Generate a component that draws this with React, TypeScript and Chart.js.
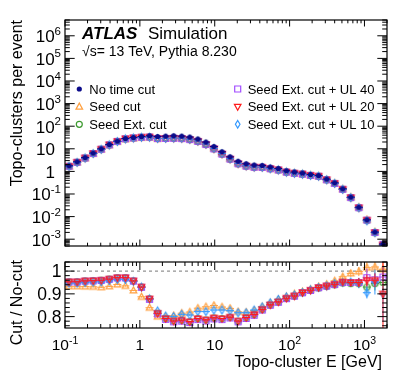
import React, { useEffect, useRef } from 'react';
import { Chart, registerables } from 'chart.js';
Chart.register(...registerables);

// ---------- DATA ----------
// Bin centres (GeV), 40 log-spaced bins from 0.1 to 2000 GeV
const energyGeV = [
  0.1132, 0.145, 0.1857, 0.2378, 0.3047, 0.3903, 0.5, 0.6404, 0.8203, 1.0508,
  1.3459, 1.7241, 2.2085, 2.8289, 3.6238, 4.6416, 5.9459, 7.6164, 9.7555, 12.497,
  16.008, 20.505, 26.265, 33.646, 43.098, 55.208, 70.717, 90.584, 116.03, 148.63,
  190.39, 243.88, 312.39, 400.17, 512.59, 656.6, 841.1, 1077.1, 1379.8, 1767.6,
];

// Topo-clusters per event, no time cut
const noTimeCut = [
  1.77, 2.66, 4.1, 6.5, 10, 15.5, 21.9, 28.6, 31.7, 35,
  37.6, 35, 36.3, 37.6, 36.3, 33, 27, 19.8, 12.6, 7.4,
  4.4, 2.8, 2.17, 1.9, 1.82, 1.55, 1.34, 1.06, 0.93, 0.84,
  0.73, 0.66, 0.457, 0.313, 0.17, 0.073, 0.026, 0.0072, 0.00206, 0.00061,
];
// relative statistical uncertainty of the distributions
const relErrMain = [
  0.004, 0.004, 0.004, 0.004, 0.004, 0.004, 0.004, 0.004, 0.004, 0.004,
  0.004, 0.004, 0.004, 0.004, 0.004, 0.004, 0.004, 0.004, 0.004, 0.005,
  0.006, 0.007, 0.008, 0.008, 0.008, 0.009, 0.01, 0.01, 0.011, 0.012,
  0.013, 0.014, 0.016, 0.02, 0.025, 0.04, 0.06, 0.1, 0.15, 0.25,
];

// Ratios Cut / No-cut
const ratioSeedCut = [
  0.933, 0.933, 0.932, 0.931, 0.929, 0.933, 0.941, 0.935, 0.915, 0.887,
  0.839, 0.8, 0.799, 0.804, 0.815, 0.82, 0.837, 0.843, 0.849, 0.842,
  0.836, 0.821, 0.819, 0.827, 0.843, 0.86, 0.875, 0.888, 0.9, 0.91,
  0.92, 0.932, 0.942, 0.957, 0.975, 0.99, 0.998, 1.015, 1.018, 1.008,
];
const ratioSeedExt = [
  0.953, 0.953, 0.957, 0.958, 0.96, 0.965, 0.971, 0.971, 0.957, 0.93,
  0.878, 0.815, 0.791, 0.781, 0.784, 0.778, 0.791, 0.785, 0.794, 0.791,
  0.797, 0.78, 0.795, 0.809, 0.831, 0.851, 0.864, 0.88, 0.89, 0.905,
  0.915, 0.926, 0.933, 0.94, 0.948, 0.945, 0.945, 0.93, 0.945, 0.95,
];
const ratioUL40 = [
  0.952, 0.952, 0.956, 0.957, 0.959, 0.964, 0.97, 0.97, 0.956, 0.929,
  0.876, 0.812, 0.788, 0.777, 0.78, 0.774, 0.787, 0.781, 0.79, 0.787,
  0.794, 0.777, 0.792, 0.806, 0.829, 0.85, 0.863, 0.879, 0.89, 0.905,
  0.915, 0.927, 0.934, 0.941, 0.95, 0.95, 0.95, 0.971, 0.962, 0.974,
];
const ratioUL20 = [
  0.953, 0.953, 0.957, 0.958, 0.96, 0.965, 0.971, 0.971, 0.957, 0.93,
  0.878, 0.815, 0.792, 0.781, 0.785, 0.778, 0.792, 0.786, 0.795, 0.792,
  0.798, 0.781, 0.796, 0.81, 0.832, 0.852, 0.865, 0.881, 0.891, 0.906,
  0.916, 0.928, 0.935, 0.942, 0.952, 0.95, 0.95, 0.96, 0.96, 0.9,
];
const ratioUL10 = [
  0.947, 0.947, 0.95, 0.952, 0.953, 0.958, 0.963, 0.963, 0.955, 0.93,
  0.878, 0.825, 0.803, 0.8, 0.81, 0.807, 0.822, 0.822, 0.829, 0.829,
  0.826, 0.817, 0.817, 0.829, 0.843, 0.861, 0.876, 0.887, 0.895, 0.906,
  0.918, 0.928, 0.935, 0.945, 0.95, 0.952, 0.948, 0.905, 0.952, 0.9,
];
// Absolute uncertainties of the ratios
const errSeedCut = [
  0.003, 0.003, 0.003, 0.003, 0.003, 0.003, 0.003, 0.003, 0.003, 0.003,
  0.003, 0.003, 0.003, 0.003, 0.003, 0.003, 0.003, 0.003, 0.003, 0.003,
  0.004, 0.004, 0.004, 0.004, 0.005, 0.005, 0.005, 0.006, 0.006, 0.007,
  0.007, 0.008, 0.009, 0.01, 0.012, 0.015, 0.02, 0.025, 0.03, 0.04,
];
const errSeedExt = [
  0.003, 0.003, 0.003, 0.003, 0.003, 0.003, 0.003, 0.003, 0.003, 0.003,
  0.003, 0.003, 0.003, 0.003, 0.003, 0.003, 0.003, 0.003, 0.003, 0.003,
  0.004, 0.004, 0.004, 0.004, 0.005, 0.005, 0.005, 0.006, 0.006, 0.007,
  0.007, 0.008, 0.009, 0.01, 0.012, 0.015, 0.02, 0.025, 0.03, 0.04,
];
const errUL40 = [
  0.003, 0.003, 0.003, 0.003, 0.003, 0.003, 0.003, 0.003, 0.003, 0.003,
  0.003, 0.003, 0.003, 0.003, 0.003, 0.003, 0.003, 0.003, 0.003, 0.003,
  0.004, 0.004, 0.004, 0.004, 0.005, 0.005, 0.005, 0.006, 0.006, 0.007,
  0.007, 0.008, 0.009, 0.01, 0.012, 0.015, 0.02, 0.04, 0.03, 0.02,
];
const errUL20 = [
  0.003, 0.003, 0.003, 0.003, 0.003, 0.003, 0.003, 0.003, 0.003, 0.003,
  0.003, 0.003, 0.003, 0.003, 0.003, 0.003, 0.003, 0.003, 0.003, 0.003,
  0.004, 0.004, 0.004, 0.004, 0.005, 0.005, 0.005, 0.006, 0.006, 0.007,
  0.007, 0.008, 0.009, 0.01, 0.012, 0.015, 0.02, 0.025, 0.03, 0.17,
];
const errUL10 = [
  0.003, 0.003, 0.003, 0.003, 0.003, 0.003, 0.003, 0.003, 0.003, 0.003,
  0.003, 0.003, 0.003, 0.003, 0.003, 0.003, 0.003, 0.003, 0.003, 0.003,
  0.004, 0.004, 0.004, 0.004, 0.005, 0.005, 0.005, 0.006, 0.006, 0.007,
  0.007, 0.008, 0.009, 0.01, 0.012, 0.015, 0.02, 0.025, 0.055, 0.12,
];

const mainYExponents = [-3, -2, -1, 0, 1, 2, 3, 4, 5, 6];
const xExponents = [-1, 0, 1, 2, 3];
const ratioTickValues = [0.8, 0.9, 1];
const ratioTickLabels = ['0.8', '0.9', '1'];

// ---------- STYLE ----------
const FONT = '"Liberation Sans", Arial, Helvetica, sans-serif';
const W = 407;
const H = 391;
const MAIN_AREA = { left: 65, right: 387, top: 20, bottom: 246 };
const RATIO_AREA = { left: 65, right: 387, top: 262, bottom: 328 };
const X_MIN = 0.1;
const X_MAX = 2000;

const COL = {
  nocut: '#0b0b8a',
  seed: '#ffa040',
  ext: '#3d9a2f',
  ul40: '#a24dff',
  ul20: '#ff1a1a',
  ul10: '#3399ff',
};

type Shape = 'dot' | 'circle' | 'tri' | 'tridown' | 'square' | 'diamond';

function drawShape(g: CanvasRenderingContext2D, shape: Shape, color: string, m: number, n: number) {
  g.save();
  g.strokeStyle = color;
  g.fillStyle = color;
  g.lineWidth = 1.2;
  g.beginPath();
  switch (shape) {
    case 'dot':
      g.arc(m, n, 2.6, 0, Math.PI * 2);
      g.fill();
      break;
    case 'circle':
      g.arc(m, n, 3, 0, Math.PI * 2);
      g.stroke();
      break;
    case 'tri':
      g.moveTo(m, n - 3.6);
      g.lineTo(m + 3.3, n + 2.4);
      g.lineTo(m - 3.3, n + 2.4);
      g.closePath();
      g.stroke();
      break;
    case 'tridown':
      g.moveTo(m, n + 3.6);
      g.lineTo(m + 3.3, n - 2.4);
      g.lineTo(m - 3.3, n - 2.4);
      g.closePath();
      g.stroke();
      break;
    case 'square':
      g.rect(m - 3, n - 3, 6, 6);
      g.stroke();
      break;
    case 'diamond':
      g.moveTo(m, n - 3.8);
      g.lineTo(m + 2.3, n);
      g.lineTo(m, n + 3.8);
      g.lineTo(m - 2.3, n);
      g.closePath();
      g.stroke();
      break;
  }
  g.restore();
}

function makeMarker(shape: Shape, color: string) {
  const c = document.createElement('canvas');
  c.width = 13;
  c.height = 13;
  const g = c.getContext('2d')!;
  drawShape(g, shape, color, 6.5, 6.5);
  return c;
}

function binEdges(i: number): [number, number] {
  const c = energyGeV;
  const lo = i > 0 ? Math.sqrt(c[i - 1] * c[i]) : (c[0] * c[0]) / Math.sqrt(c[0] * c[1]);
  const hi = i < c.length - 1 ? Math.sqrt(c[i] * c[i + 1]) : (c[i] * c[i]) / Math.sqrt(c[i - 1] * c[i]);
  return [lo, hi];
}

const errorBarPlugin = {
  id: 'errorBars',
  beforeDatasetDraw(chart: any, args: any) {
    const ds = chart.data.datasets[args.index];
    if (!ds.errs) return;
    const { ctx, chartArea } = chart;
    const xs = chart.scales.x;
    const ys = chart.scales.y;
    ctx.save();
    ctx.beginPath();
    ctx.rect(chartArea.left, chartArea.top, chartArea.right - chartArea.left, chartArea.bottom - chartArea.top);
    ctx.clip();
    ctx.strokeStyle = ds.barColor;
    ctx.lineWidth = 1;
    ds.data.forEach((p: any, i: number) => {
      const [lo, hi] = binEdges(i);
      const px = xs.getPixelForValue(p.x);
      const py = ys.getPixelForValue(p.y);
      const e = ds.errs[i];
      const yLo = ys.type === 'logarithmic' ? Math.max(p.y - e, p.y * 0.01) : p.y - e;
      ctx.beginPath();
      ctx.moveTo(xs.getPixelForValue(lo), py);
      ctx.lineTo(xs.getPixelForValue(hi), py);
      ctx.moveTo(px, ys.getPixelForValue(yLo));
      ctx.lineTo(px, ys.getPixelForValue(p.y + e));
      ctx.stroke();
    });
    ctx.restore();
  },
};

function logTickValues(min: number, max: number) {
  const out: { v: number; major: boolean }[] = [];
  for (let d = -5; d <= 7; d++) {
    for (let k = 1; k <= 9; k++) {
      const v = k * Math.pow(10, d);
      if (v >= min * 0.9999 && v <= max * 1.0001) out.push({ v, major: k === 1 });
    }
  }
  return out;
}

function drawPow(ctx: CanvasRenderingContext2D, exp: number, x: number, y: number, align: 'right' | 'center', size: number, supSize: number, supRise: number) {
  let base = '10';
  let sup = '';
  if (exp === 0) base = '1';
  else if (exp === 1) base = '10';
  else sup = String(exp);
  ctx.font = `${size}px ${FONT}`;
  const wb = ctx.measureText(base).width;
  ctx.font = `${supSize}px ${FONT}`;
  const ws = sup ? ctx.measureText(sup).width : 0;
  const total = wb + ws;
  const x0 = align === 'right' ? x - total : x - total / 2;
  ctx.textAlign = 'left';
  ctx.textBaseline = 'alphabetic';
  ctx.font = `${size}px ${FONT}`;
  ctx.fillText(base, x0, y);
  if (sup) {
    ctx.font = `${supSize}px ${FONT}`;
    ctx.fillText(sup, x0 + wb, y - supRise);
  }
}

function drawFrameAndXTicks(ctx: CanvasRenderingContext2D, chart: any, xMajor: number, xMinor: number) {
  const { chartArea } = chart;
  const xs = chart.scales.x;
  ctx.save();
  ctx.strokeStyle = '#000';
  ctx.lineWidth = 1;
  ctx.beginPath();
  logTickValues(X_MIN, X_MAX).forEach(({ v, major }) => {
    const px = xs.getPixelForValue(v);
    const len = major ? xMajor : xMinor;
    ctx.moveTo(px, chartArea.bottom);
    ctx.lineTo(px, chartArea.bottom - len);
    ctx.moveTo(px, chartArea.top);
    ctx.lineTo(px, chartArea.top + len);
  });
  ctx.stroke();
  ctx.lineWidth = 1.2;
  ctx.strokeRect(chartArea.left, chartArea.top, chartArea.right - chartArea.left, chartArea.bottom - chartArea.top);
  ctx.restore();
}

const mainDecorPlugin = {
  id: 'mainDecor',
  afterDraw(chart: any) {
    const { ctx, chartArea } = chart;
    const ys = chart.scales.y;
    drawFrameAndXTicks(ctx, chart, 6.5, 3.3);
    ctx.save();
    ctx.strokeStyle = '#000';
    ctx.lineWidth = 1;
    ctx.beginPath();
    logTickValues(ys.min, ys.max).forEach(({ v, major }) => {
      const py = ys.getPixelForValue(v);
      const len = major ? 9.7 : 4.8;
      ctx.moveTo(chartArea.left, py);
      ctx.lineTo(chartArea.left + len, py);
      ctx.moveTo(chartArea.right, py);
      ctx.lineTo(chartArea.right - len, py);
    });
    ctx.stroke();
    ctx.fillStyle = '#000';
    mainYExponents.forEach((e) => {
      const py = ys.getPixelForValue(Math.pow(10, e));
      const right = e === 0 || e === 1 ? 55 : 61;
      drawPow(ctx, e, right, py + 6.5, 'right', 17, 11.5, 7.5);
    });
    // Y title
    ctx.save();
    ctx.translate(22, chartArea.top);
    ctx.rotate(-Math.PI / 2);
    ctx.font = `16px ${FONT}`;
    ctx.textAlign = 'right';
    ctx.textBaseline = 'alphabetic';
    ctx.fillText('Topo-clusters per event', 0, 0);
    ctx.restore();
    // ATLAS label
    ctx.textAlign = 'left';
    ctx.textBaseline = 'alphabetic';
    ctx.font = `italic bold 17px ${FONT}`;
    ctx.fillText('ATLAS', 82, 39.3);
    ctx.font = `17px ${FONT}`;
    ctx.fillText('Simulation', 148, 39.3);
    ctx.font = `14px ${FONT}`;
    ctx.fillText('\u221As= 13 TeV, Pythia 8.230', 82, 56);
    // legend
    const legend: [Shape, string, string, number, number][] = [
      ['dot', COL.nocut, 'No time cut', 79.3, 89],
      ['tri', COL.seed, 'Seed cut', 79.3, 106.7],
      ['circle', COL.ext, 'Seed Ext. cut', 79.3, 124.3],
      ['square', COL.ul40, 'Seed Ext. cut + UL 40', 237.7, 89],
      ['tridown', COL.ul20, 'Seed Ext. cut + UL 20', 237.7, 106.7],
      ['diamond', COL.ul10, 'Seed Ext. cut + UL 10', 237.7, 124.3],
    ];
    ctx.font = `13px ${FONT}`;
    legend.forEach(([shape, color, text, x, y]) => {
      drawShape(ctx, shape, color, x, y);
      ctx.fillStyle = '#000';
      ctx.fillText(text, x + 10, y + 4.7);
    });
    ctx.restore();
  },
};

const ratioDecorPlugin = {
  id: 'ratioDecor',
  beforeDatasetsDraw(chart: any) {
    const { ctx, chartArea } = chart;
    const ys = chart.scales.y;
    const py = ys.getPixelForValue(1);
    ctx.save();
    ctx.strokeStyle = '#777';
    ctx.lineWidth = 1;
    ctx.setLineDash([3, 3]);
    ctx.beginPath();
    ctx.moveTo(chartArea.left, py);
    ctx.lineTo(chartArea.right, py);
    ctx.stroke();
    ctx.restore();
  },
  afterDraw(chart: any) {
    const { ctx, chartArea } = chart;
    const ys = chart.scales.y;
    const xs = chart.scales.x;
    drawFrameAndXTicks(ctx, chart, 8, 4);
    ctx.save();
    ctx.strokeStyle = '#000';
    ctx.lineWidth = 1;
    ctx.beginPath();
    for (let k = 38; k <= 52; k++) {
      const v = k * 0.02;
      if (v < ys.min || v > ys.max) continue;
      const major = k % 5 === 0;
      const p = ys.getPixelForValue(v);
      const len = major ? 9.7 : 4.8;
      ctx.moveTo(chartArea.left, p);
      ctx.lineTo(chartArea.left + len, p);
      ctx.moveTo(chartArea.right, p);
      ctx.lineTo(chartArea.right - len, p);
    }
    ctx.stroke();
    ctx.fillStyle = '#000';
    ctx.font = `17.5px ${FONT}`;
    ctx.textAlign = 'right';
    ctx.textBaseline = 'alphabetic';
    ratioTickValues.forEach((v, i) => {
      ctx.fillText(ratioTickLabels[i], 61.5, ys.getPixelForValue(v) + 6);
    });
    xExponents.forEach((e) => {
      drawPow(ctx, e, xs.getPixelForValue(Math.pow(10, e)), 350, 'center', 15.5, 10.5, 6.5);
    });
    // titles
    ctx.font = `16px ${FONT}`;
    ctx.textAlign = 'right';
    ctx.fillText('Topo-cluster E [GeV]', 382, 366.5);
    ctx.save();
    ctx.translate(22, 260);
    ctx.rotate(-Math.PI / 2);
    ctx.fillText('Cut / No-cut', 0, 0);
    ctx.restore();
    ctx.restore();
  },
};

function series(values: number[], errs: number[], shape: Shape, color: string, label: string) {
  return {
    label,
    data: energyGeV.map((x, i) => ({ x, y: values[i] })),
    errs,
    barColor: color,
    pointStyle: makeMarker(shape, color),
    pointRadius: 4,
    showLine: false,
  } as any;
}

function scaled(ratio: number[]) {
  return noTimeCut.map((v, i) => v * ratio[i]);
}

export default function App() {
  const mainRef = useRef<HTMLCanvasElement>(null);
  const ratioRef = useRef<HTMLCanvasElement>(null);

  useEffect(() => {
    const mainAbsErr = (vals: number[]) => vals.map((v, i) => v * relErrMain[i]);
    const sSeed = scaled(ratioSeedCut);
    const sExt = scaled(ratioSeedExt);
    const s40 = scaled(ratioUL40);
    const s20 = scaled(ratioUL20);
    const s10 = scaled(ratioUL10);

    const baseOptions = (area: any, yScale: any) => ({
      animation: false,
      responsive: false,
      maintainAspectRatio: false,
      events: [],
      layout: {
        padding: { left: area.left, right: W - area.right, top: area.top, bottom: H - area.bottom },
      },
      plugins: { legend: { display: false }, tooltip: { enabled: false }, title: { display: false } },
      scales: {
        x: { type: 'logarithmic', min: X_MIN, max: X_MAX, display: false },
        y: yScale,
      },
    });

    // Chart.js paints the first dataset last (on top)
    const mainChart = new Chart(mainRef.current!, {
      type: 'scatter',
      data: {
        datasets: [
          series(noTimeCut, mainAbsErr(noTimeCut), 'dot', COL.nocut, 'No time cut'),
          series(s10, mainAbsErr(s10), 'diamond', COL.ul10, 'Seed Ext. cut + UL 10'),
          series(s20, mainAbsErr(s20), 'tridown', COL.ul20, 'Seed Ext. cut + UL 20'),
          series(s40, mainAbsErr(s40), 'square', COL.ul40, 'Seed Ext. cut + UL 40'),
          series(sExt, mainAbsErr(sExt), 'circle', COL.ext, 'Seed Ext. cut'),
          series(sSeed, mainAbsErr(sSeed), 'tri', COL.seed, 'Seed cut'),
        ],
      },
      options: baseOptions(MAIN_AREA, { type: 'logarithmic', min: 5e-4, max: 5e6, display: false }) as any,
      plugins: [errorBarPlugin, mainDecorPlugin],
    } as any);

    const ratioChart = new Chart(ratioRef.current!, {
      type: 'scatter',
      data: {
        datasets: [
          series(ratioUL20, errUL20, 'tridown', COL.ul20, 'Seed Ext. cut + UL 20'),
          series(ratioUL10, errUL10, 'diamond', COL.ul10, 'Seed Ext. cut + UL 10'),
          series(ratioUL40, errUL40, 'square', COL.ul40, 'Seed Ext. cut + UL 40'),
          series(ratioSeedCut, errSeedCut, 'tri', COL.seed, 'Seed cut'),
          series(ratioSeedExt, errSeedExt, 'circle', COL.ext, 'Seed Ext. cut'),
        ],
      },
      options: baseOptions(RATIO_AREA, { type: 'linear', min: 0.75, max: 1.04, display: false }) as any,
      plugins: [errorBarPlugin, ratioDecorPlugin],
    } as any);

    return () => {
      mainChart.destroy();
      ratioChart.destroy();
    };
  }, []);

  const cStyle: React.CSSProperties = { position: 'absolute', left: 0, top: 0, width: W, height: H };
  return (
    <div style={{ position: 'absolute', left: 0, top: 0, width: W, height: H, background: '#fff' }}>
      <canvas ref={mainRef} width={W} height={H} style={cStyle} />
      <canvas ref={ratioRef} width={W} height={H} style={cStyle} />
    </div>
  );
}
